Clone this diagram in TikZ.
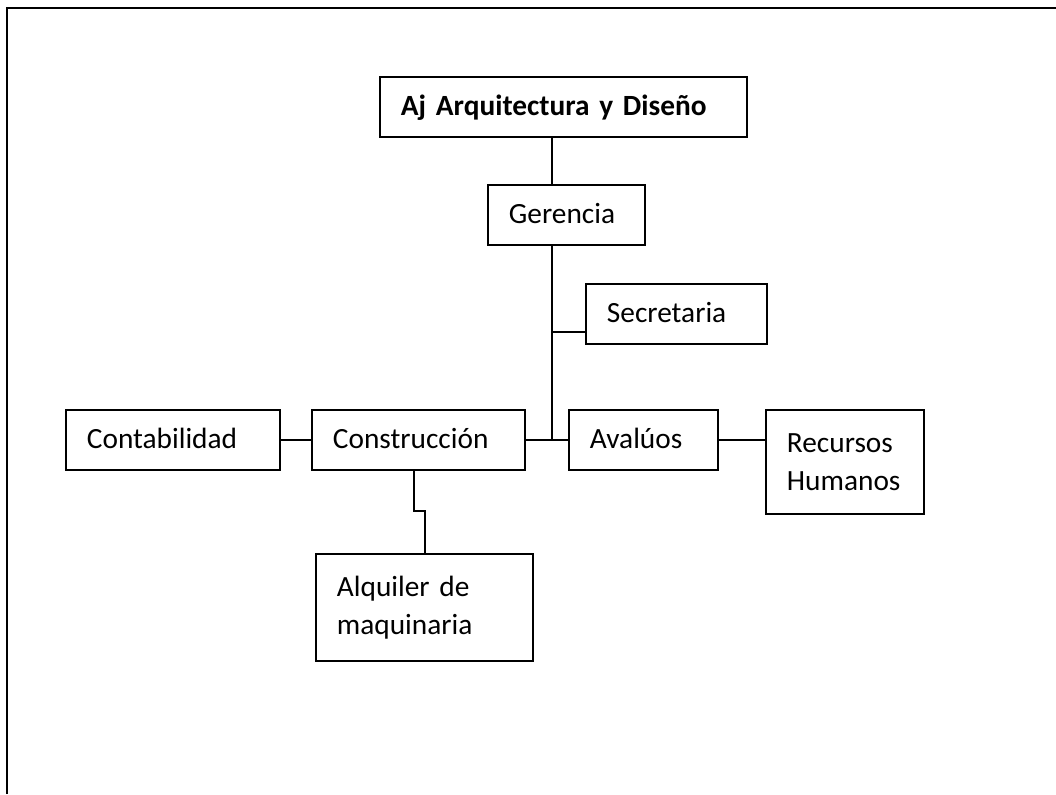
\documentclass[tikz,border=0pt]{standalone}
\usepackage{fontspec}
\setmainfont{Carlito}
\begin{document}
\begin{tikzpicture}[
        x=0.75pt, y=-0.75pt,
        line width=1.4pt,
        unit/.style={draw, rectangle, anchor=north west, inner xsep=15.75pt, inner ysep=0pt,
            align=left, font=\fontsize{22}{28.5}\selectfont},
        oneline/.style={text height=18pt, text depth=4.5pt},
        frame/.style={line width=2.2pt}
    ]
        \useasboundingbox (0,0) rectangle (1056,794);
        % Page frame
        \draw[frame] (7,794) -- (7,8) -- (1056,8);

        % Top
        \node[unit, oneline, text width=243.75pt, minimum height=45pt] (firm) at (379,76) {\textbf{Aj Arquitectura y Diseño}};
        \node[unit, oneline, text width=86.25pt, minimum height=45pt] (ger) at (487,184) {Gerencia};
        \node[unit, oneline, text width=104.25pt, minimum height=45pt] (sec) at (585,283) {Secretaria};
        % Departments
        \node[unit, oneline, text width=129pt, minimum height=45pt] (cont) at (65,409) {Contabilidad};
        \node[unit, oneline, text width=128.25pt, minimum height=45pt] (cons) at (311,409) {Construcción};
        \node[unit, oneline, text width=80.25pt, minimum height=45pt] (aval) at (568,409) {Avalúos};
        \node[unit, text width=87pt, minimum height=78pt] (rrhh) at (765,409) {Recursos\\Humanos};
        \node[unit, text width=131.25pt, minimum height=80.25pt] (alq) at (315,553) {Alquiler de\\maquinaria};

        % Trunk
        \coordinate (trunk) at (552,440);
        \coordinate (secjoin) at (552,332);
        \draw (firm.south -| trunk) -- (ger.north -| trunk);
        \draw (ger.south -| trunk) -- (trunk);
        \draw (secjoin) -- (secjoin -| sec.west);

        % Branches
        \draw (cons.east) -- (aval.west);
        \draw (cont.east) -- (cons.west);
        \draw (aval.east) -- (aval.east -| rrhh.west);
        \coordinate (jogA) at (414,511);
        \coordinate (jogB) at (425,511);
        \draw (cons.south -| jogA) -- (jogA) -- (jogB) -- (alq.north -| jogB);
    \end{tikzpicture}
\end{document}
